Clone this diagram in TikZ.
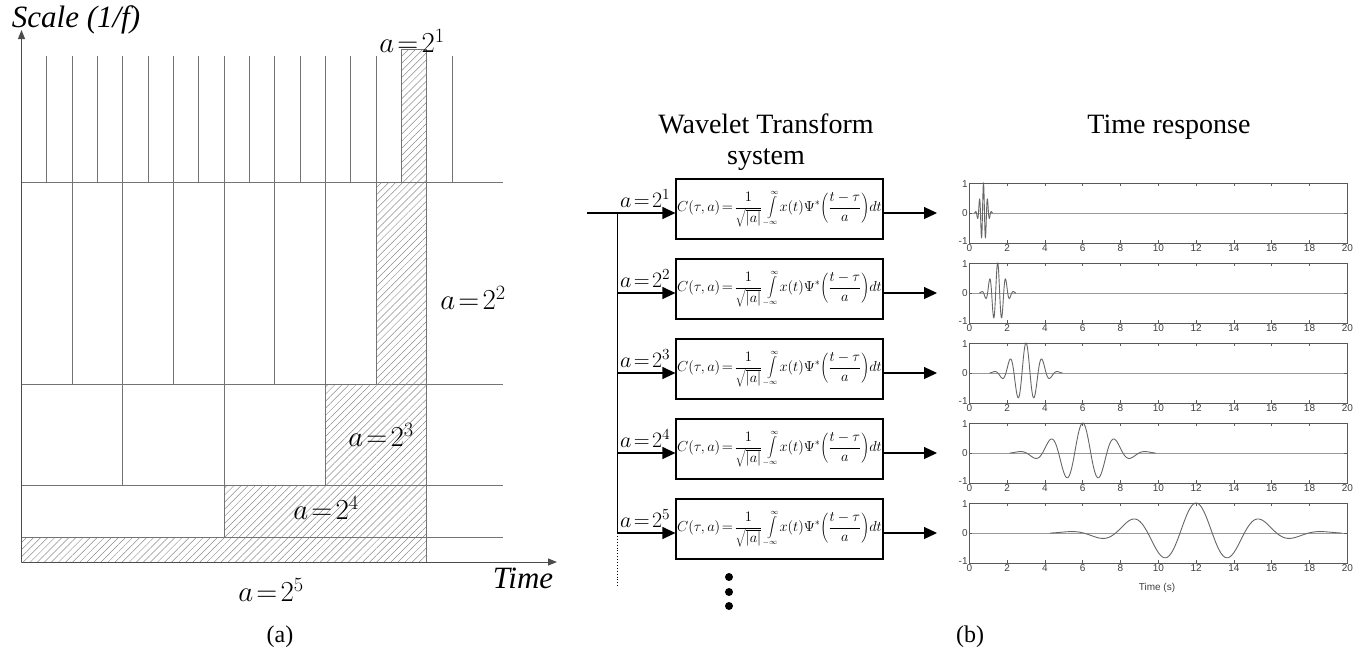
\RequirePackage{fix-cm}
\documentclass[tikz,border=0pt]{standalone}
\usepackage{fontspec}
\setmainfont{Liberation Serif}
\newfontfamily\plotfont{Liberation Sans}
\usetikzlibrary{positioning,arrows.meta,patterns.meta}

\newcommand{\wtformula}{$\displaystyle C(\tau,a)\!=\!\frac{1}{\sqrt{|a|}}\int\limits_{\scriptscriptstyle-\infty}^{\scriptscriptstyle\infty}\!x(t)\Psi^{*}\!\left(\frac{t-\tau}{a}\right)\!dt$}

\begin{document}
\begin{tikzpicture}[x=1pt, y=-1pt, >={Triangle[length=13pt,width=12pt]},
  gridline/.style={draw=black!55, line width=0.9pt},
  hatched/.style={pattern={Lines[angle=45,distance=5pt,line width=0.5pt]},
    pattern color=black!45, draw=black!55, line width=0.9pt},
  axis/.style={draw=black!70, line width=1pt, -{Triangle[length=9pt,width=7pt]}},
  biglabel/.style={font=\fontsize{29}{32}\selectfont, inner sep=0pt},
  title/.style={font=\fontsize{28}{31}\selectfont, align=center},
  wtbox/.style={draw, line width=1.2pt, minimum width=207pt, minimum height=60pt,
    inner sep=1pt, font=\fontsize{14.5}{16}\selectfont},
  slabel/.style={font=\fontsize{22}{24}\selectfont, inner sep=0pt},
  link/.style={line width=1.2pt},
  frame/.style={draw=black!65, line width=0.8pt},
  wave/.style={draw=black!60, line width=0.9pt},
  ticklbl/.style={font=\plotfont\fontsize{10}{11}\selectfont, inner sep=1.5pt, text=black!75}]
  \useasboundingbox (0,0) rectangle (1370,656);

  % (a) time-scale tiling
  \path[hatched] (401.5,49) rectangle (426.8,182);
  \path[hatched] (376.2,182) rectangle (426.8,384);
  \path[hatched] (325.5,384) rectangle (426.8,485);
  \path[hatched] (224.2,485) rectangle (426.8,537);
  \path[hatched] (21.5,537) rectangle (426.8,562);
  \foreach \k in {1,...,17}
    \draw[gridline] ({21.5+\k*25.33},56) -- ++(0,126);
  \foreach \k in {1,...,7}
    \draw[gridline] ({21.5+\k*50.66},182) -- ++(0,202);
  \foreach \k in {1,2,3}
    \draw[gridline] ({21.5+\k*101.33},384) -- ++(0,101);
  \draw[gridline] (224.2,485) -- (224.2,537);
  \foreach \y in {182,384,485,537}
    \draw[gridline] (21.5,\y) -- (503,\y);
  \draw[gridline] (426.8,49) -- (426.8,562);
  \draw[axis] (21.5,562) -- (21.5,30);
  \draw[axis] (21.5,562) -- (557,562);
  \node[font=\fontsize{31}{33}\selectfont\itshape] (yax) at (76,20) {Scale (1/f)};
  \node[font=\fontsize{31}{33}\selectfont\itshape] (xax) at (523,578) {Time};
  \node[biglabel] (a1) at (412,41) {$a\!=\!2^{1}$};
  \node[biglabel] (a2) at (473,298) {$a\!=\!2^{2}$};
  \node[biglabel] (a3) at (381,435) {$a\!=\!2^{3}$};
  \node[biglabel] (a4) at (326,508) {$a\!=\!2^{4}$};
  \node[biglabel] (a5) at (271,590) {$a\!=\!2^{5}$};
  \node[font=\fontsize{24}{26}\selectfont] (capa) at (280,637) {(a)};

  % (b) filter bank
  \node[title] (wt) at (766,142) {Wavelet Transform\\system};
  \node[title] (tr) at (1169,127) {Time response};
  \foreach \k in {1,...,5}
    \node[wtbox] (w\k) at (779.5,{209+80*(\k-1)}) {\wtformula};
  \coordinate (in) at (587,213);
  \coordinate (b1) at (617.7,213);
  \foreach \k in {2,...,5}
    \coordinate (b\k) at (617.7,{213+80*(\k-1)});
  \coordinate (bend) at (617.7,588);
  \draw[link, ->] (in) -- (w1.west |- in);
  \draw[line width=0.9pt] (b1) -- (b5);
  \draw[line width=0.9pt, dotted] (b5) -- (bend);
  \foreach \k in {2,...,5}
    \draw[link, ->] (b\k) -- (w\k.west |- b\k);
  \foreach \k in {1,...,5} {
    \node[slabel, anchor=south east] (s\k) at ([xshift=-5pt,yshift=5pt]w\k.west |- b\k) {$a\!=\!2^{\k}$};
    \coordinate (o\k) at (937,{213+80*(\k-1)});
    \draw[link, ->] (w\k.east |- o\k) -- (o\k);
  }
  \foreach \y [count=\i] in {577,592,606}
    \node[circle, fill, inner sep=0pt, minimum size=8pt] (dot\i) at (729,\y) {};

  % wavelet responses
  \foreach \k/\c/\s/\lo/\hi in {1/0.75/0.169/0.27/1.23, 2/1.5/0.339/0.53/2.47,
      3/3/0.677/1.07/4.93, 4/6/1.355/2.14/9.86, 5/12/2.71/4.28/19.72} {
    \begin{scope}[shift={(969.3,{213+80*(\k-1)})}, xscale=18.9, yscale=-30]
      \draw[draw=black!40, line width=0.8pt] (0,0) -- (20,0);
      \draw[wave] plot[domain=\lo:\hi, samples=170]
        (\x, {exp(-0.5*((\x-\c)/\s)*((\x-\c)/\s))*cos(deg(5*(\x-\c)/\s))});
      \draw[frame] (0,-1) rectangle (20,1);
      \draw[frame] (0,0) -- (0.15,0) (20,0) -- (19.85,0);
      \foreach \t in {0,2,...,20} {
        \draw[frame] (\t,1) -- (\t,0.9) (\t,-1) -- (\t,-0.9);
        \node[ticklbl, below] (x\k-\t) at (\t,-1) {\t};
      }
      \node[ticklbl, left] (y\k-p) at (0,0.95) {1};
      \node[ticklbl, left] (y\k-z) at (0,0) {0};
      \node[ticklbl, left] (y\k-m) at (0,-0.95) {-1};
    \end{scope}
  }
  \node[ticklbl] (tlab) at (1157,588) {Time (s)};
  \node[font=\fontsize{24}{26}\selectfont] (capb) at (970,637) {(b)};
\end{tikzpicture}
\end{document}
